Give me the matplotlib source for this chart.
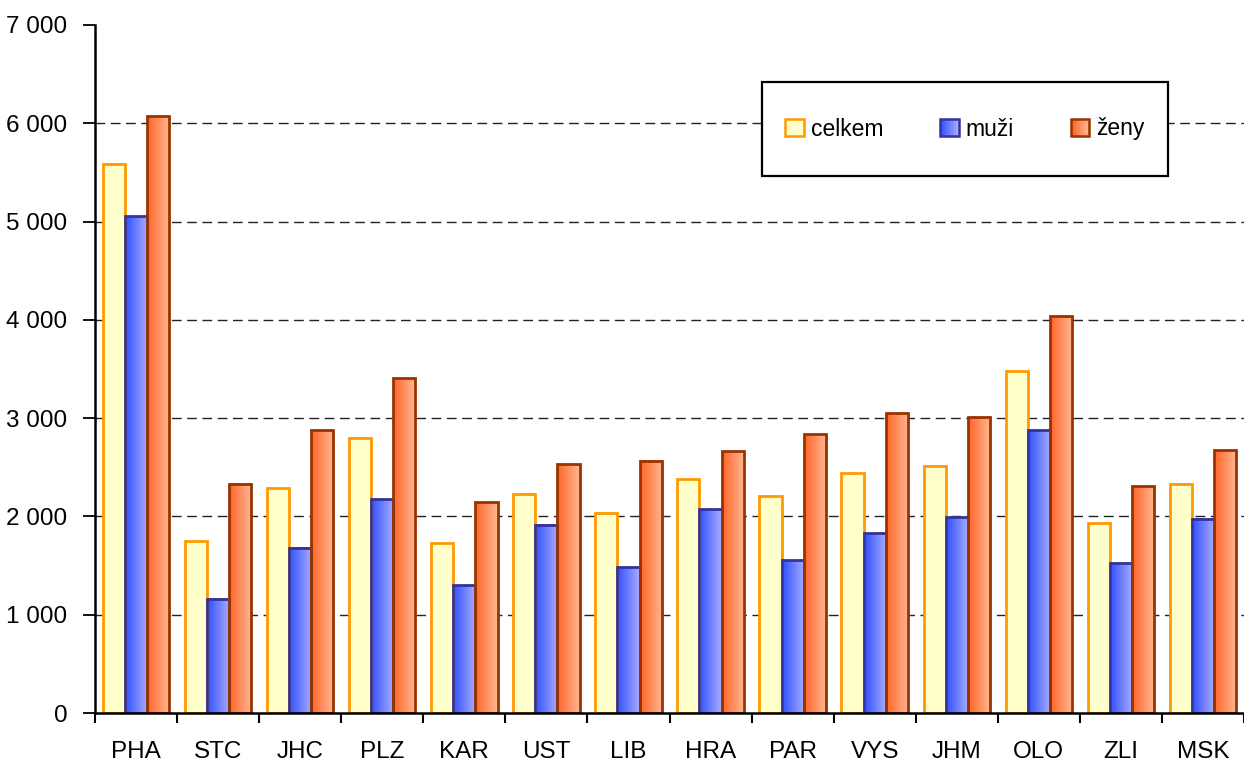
import numpy as np
import matplotlib.pyplot as plt
from matplotlib.colors import LinearSegmentedColormap
from matplotlib.patches import Rectangle
from matplotlib.legend_handler import HandlerBase

plt.rcParams['font.family'] = ['Liberation Sans', 'DejaVu Sans']

# data
regions = ['PHA', 'STC', 'JHC', 'PLZ', 'KAR', 'UST', 'LIB', 'HRA', 'PAR', 'VYS',
           'JHM', 'OLO', 'ZLI', 'MSK']
celkem = [5585, 1750, 2289, 2798, 1729, 2228, 2035, 2380, 2208, 2441, 2513, 3479, 1933, 2330]
muzi = [5056, 1160, 1679, 2177, 1302, 1913, 1485, 2075, 1556, 1831, 1994, 2879, 1525, 1974]
zeny = [6073, 2330, 2879, 3408, 2146, 2533, 2564, 2665, 2838, 3052, 3011, 4039, 2309, 2675]
series_names = ['celkem', 'muži', 'ženy']
y_ticks = [0, 1000, 2000, 3000, 4000, 5000, 6000, 7000]

W, H = 1244, 765
fig = plt.figure(figsize=(W / 100, H / 100), dpi=100)
ax = fig.add_axes([95 / W, 1 - 713 / H, 1149 / W, (713 - 25) / H])

styles = [
    # (left colour, right colour, edge colour)
    ('#ffffcc', '#ffffcc', '#ff9900'),
    ('#3050ff', '#a8acff', '#333399'),
    ('#ff6428', '#ffb894', '#993300'),
]
cmaps = [LinearSegmentedColormap.from_list('g%d' % i, [s[0], s[1]]) for i, s in enumerate(styles)]
grad = np.linspace(0, 1, 64).reshape(1, -1)

x = np.arange(len(regions))
width = 0.27
offsets = [-width, 0, width]

# dashed gridlines (not at 0 or 7000)
for v in y_ticks[1:-1]:
    ax.axhline(v, color='#222222', lw=1.0, ls=(0, (7, 4)), zorder=1)

for k, vals in enumerate([celkem, muzi, zeny]):
    for xi, v in zip(x, vals):
        left = xi + offsets[k] - width / 2
        ax.imshow(grad, cmap=cmaps[k], aspect='auto', interpolation='bilinear',
                  extent=[left, left + width, 0, v], zorder=2)
        ax.add_patch(Rectangle((left, 0), width, v, fill=False,
                               edgecolor=styles[k][2], lw=2.0, zorder=3))

ax.set_xlim(-0.5, len(regions) - 0.5)
ax.set_ylim(0, 7000)

ax.set_yticks(y_ticks)
ax.set_yticklabels([f'{v:,}'.replace(',', ' ') for v in y_ticks])
ax.set_xticks(x)
ax.set_xticklabels(regions)
ax.set_xticks(np.arange(-0.5, len(regions)), minor=True)
ax.tick_params(axis='x', which='major', length=0, pad=20, labelsize=17.5)
ax.tick_params(axis='x', which='minor', length=7, width=1.5, direction='out')
ax.tick_params(axis='y', length=9, width=1.3, direction='out', pad=11, labelsize=17.5)

for s in ['top', 'right']:
    ax.spines[s].set_visible(False)
for s in ['left', 'bottom']:
    ax.spines[s].set_linewidth(1.8)
    ax.spines[s].set_zorder(5)


class GradHandler(HandlerBase):
    def __init__(self, k):
        super().__init__()
        self.k = k

    def create_artists(self, legend, orig_handle, xdescent, ydescent, width, height, fontsize, trans):
        n = 12
        arts = []
        c = cmaps[self.k]
        for i in range(n):
            r = Rectangle((-xdescent + width * i / n, -ydescent), width / n + 0.3, height,
                          facecolor=c(i / (n - 1)), edgecolor='none', transform=trans)
            arts.append(r)
        arts.append(Rectangle((-xdescent, -ydescent), width, height, fill=False,
                              edgecolor=styles[self.k][2], lw=1.8, transform=trans))
        return arts


handles = [Rectangle((0, 0), 1, 1) for _ in range(3)]
leg = ax.legend(handles, series_names, loc='center',
                bbox_to_anchor=((965 - 95) / 1149, (713 - 129) / 688),
                ncol=3, frameon=False, fontsize=16.5, handlelength=0.8, handleheight=0.8,
                handletextpad=0.3, columnspacing=2.5,
                handler_map={h: GradHandler(i) for i, h in enumerate(handles)})
leg.set_zorder(6)

ax.add_patch(Rectangle(((762 - 95) / 1149, (713 - 176) / 688), (1168 - 762) / 1149, (176 - 82) / 688,
                       transform=ax.transAxes, facecolor='white', edgecolor='black',
                       lw=1.6, zorder=5.5, clip_on=False))

fig.savefig('out.png', dpi=100)
